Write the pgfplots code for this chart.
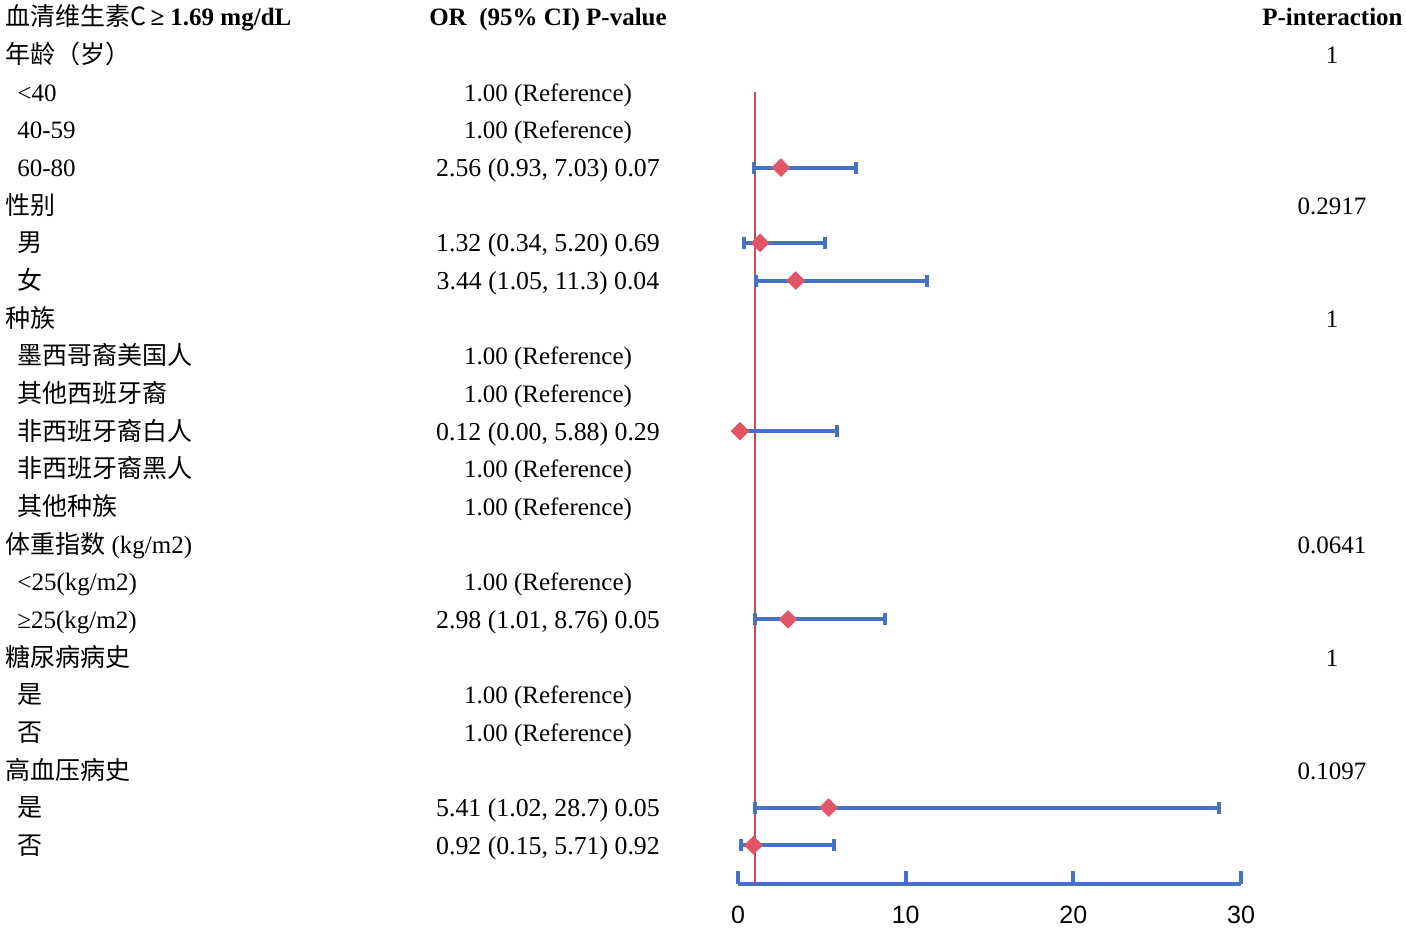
\documentclass[border=0pt]{standalone}
\usepackage{fontspec}
\setmainfont{Liberation Serif}
\newfontfamily\cjk{Noto Sans CJK SC}
\newfontfamily\sans{Liberation Sans}
\usepackage{pgfplots}
\usepackage{pgfplotstable}
\pgfplotsset{compat=1.18}

\definecolor{barblue}{RGB}{68,114,196}
\definecolor{refred}{RGB}{204,72,86}
\definecolor{dotred}{RGB}{226,84,102}

% row index, OR, distance to lower and upper CI bound
\pgfplotstableread{
k  or   em   ep
4  2.56 1.63 4.47
6  1.32 0.98 3.88
7  3.44 2.39 7.86
11 0.12 0.12 5.76
16 2.98 1.97 5.78
21 5.41 4.39 23.29
22 0.92 0.77 4.79
}\ortable

\newcommand\ry[1]{{26+37.65*#1}}
\newcommand\ci[1]{{\fontsize{12.9pt}{15pt}\selectfont #1}}

\begin{document}
\begin{tikzpicture}
\useasboundingbox (0,0) rectangle (703pt,-465.5pt);
\begin{axis}[
    at={(369pt,-442pt)}, anchor=south west,
    scale only axis, width=251.5pt, height=433.5pt,
    xmin=0, xmax=30, ymin=0, ymax=23.03, y dir=reverse,
    axis x line=bottom, axis y line=none,
    axis line style={-, barblue, line width=2pt},
    xtick={0,10,20,30}, minor tick num=0,
    tick align=inside, major tick length=6.5pt,
    tick style={barblue, line width=2pt},
    xticklabel style={font=\sans\fontsize{12.5pt}{14pt}\selectfont, yshift=-7.5pt, text=black},
    /pgf/number format/assume math mode=true,
    clip=false,
]
\addplot[refred, line width=1pt] coordinates {(1,2) (1,23.03)};
\addplot[only marks, mark=square*, mark size=3.1pt,
    mark options={rotate=45, fill=dotred, draw=dotred},
    error bars/.cd, x dir=both, x explicit,
    error bar style={barblue, line width=2pt},
    error mark=|,
    error mark options={barblue, line width=2pt, mark size=3pt}]
    table[x=or, y=k, x error minus=em, x error plus=ep] {\ortable};
\end{axis}

\begin{scope}[x=0.5pt, y=-0.5pt, every node/.style={font=\fontsize{12.5pt}{15pt}\selectfont, inner sep=0pt}]
% left column
\node[anchor=base west] at (5,\ry{0}) {{\cjk 血清维生素C}\,\textbf{≥ 1.69 mg/dL}};
\node[anchor=base west] at (5,\ry{1}) {\cjk 年龄（岁）};
\node[anchor=base west] at (17,\ry{2}) {<40};
\node[anchor=base west] at (17,\ry{3}) {40-59};
\node[anchor=base west] at (17,\ry{4}) {60-80};
\node[anchor=base west] at (5,\ry{5}) {\cjk 性别};
\node[anchor=base west] at (17,\ry{6}) {\cjk 男};
\node[anchor=base west] at (17,\ry{7}) {\cjk 女};
\node[anchor=base west] at (5,\ry{8}) {\cjk 种族};
\node[anchor=base west] at (17,\ry{9}) {\cjk 墨西哥裔美国人};
\node[anchor=base west] at (17,\ry{10}) {\cjk 其他西班牙裔};
\node[anchor=base west] at (17,\ry{11}) {\cjk 非西班牙裔白人};
\node[anchor=base west] at (17,\ry{12}) {\cjk 非西班牙裔黑人};
\node[anchor=base west] at (17,\ry{13}) {\cjk 其他种族};
\node[anchor=base west] at (5,\ry{14}) {{\cjk 体重指数}\ (kg/m2)};
\node[anchor=base west] at (17,\ry{15}) {<25(kg/m2)};
\node[anchor=base west] at (17,\ry{16}) {≥25(kg/m2)};
\node[anchor=base west] at (5,\ry{17}) {\cjk 糖尿病病史};
\node[anchor=base west] at (17,\ry{18}) {\cjk 是};
\node[anchor=base west] at (17,\ry{19}) {\cjk 否};
\node[anchor=base west] at (5,\ry{20}) {\cjk 高血压病史};
\node[anchor=base west] at (17,\ry{21}) {\cjk 是};
\node[anchor=base west] at (17,\ry{22}) {\cjk 否};
% middle column
\node[anchor=base] at (548,\ry{0}) {\textbf{OR\ \ (95\% CI) P-value}};
\foreach \k in {2,3,9,10,12,13,15,18,19}
  \node[anchor=base] at (548,\ry{\k}) {1.00 (Reference)};
\node[anchor=base] at (548,\ry{4}) {\ci{2.56 (0.93, 7.03) 0.07}};
\node[anchor=base] at (548,\ry{6}) {\ci{1.32 (0.34, 5.20) 0.69}};
\node[anchor=base] at (548,\ry{7}) {\ci{3.44 (1.05, 11.3) 0.04}};
\node[anchor=base] at (548,\ry{11}) {\ci{0.12 (0.00, 5.88) 0.29}};
\node[anchor=base] at (548,\ry{16}) {\ci{2.98 (1.01, 8.76) 0.05}};
\node[anchor=base] at (548,\ry{21}) {\ci{5.41 (1.02, 28.7) 0.05}};
\node[anchor=base] at (548,\ry{22}) {\ci{0.92 (0.15, 5.71) 0.92}};
% right column
\node[anchor=base east] at (1403,\ry{0}) {\textbf{P-interaction}};
\node[anchor=base] at (1332,\ry{1}) {1};
\node[anchor=base] at (1332,\ry{5}) {0.2917};
\node[anchor=base] at (1332,\ry{8}) {1};
\node[anchor=base] at (1332,\ry{14}) {0.0641};
\node[anchor=base] at (1332,\ry{17}) {1};
\node[anchor=base] at (1332,\ry{20}) {0.1097};
\end{scope}
\end{tikzpicture}
\end{document}
